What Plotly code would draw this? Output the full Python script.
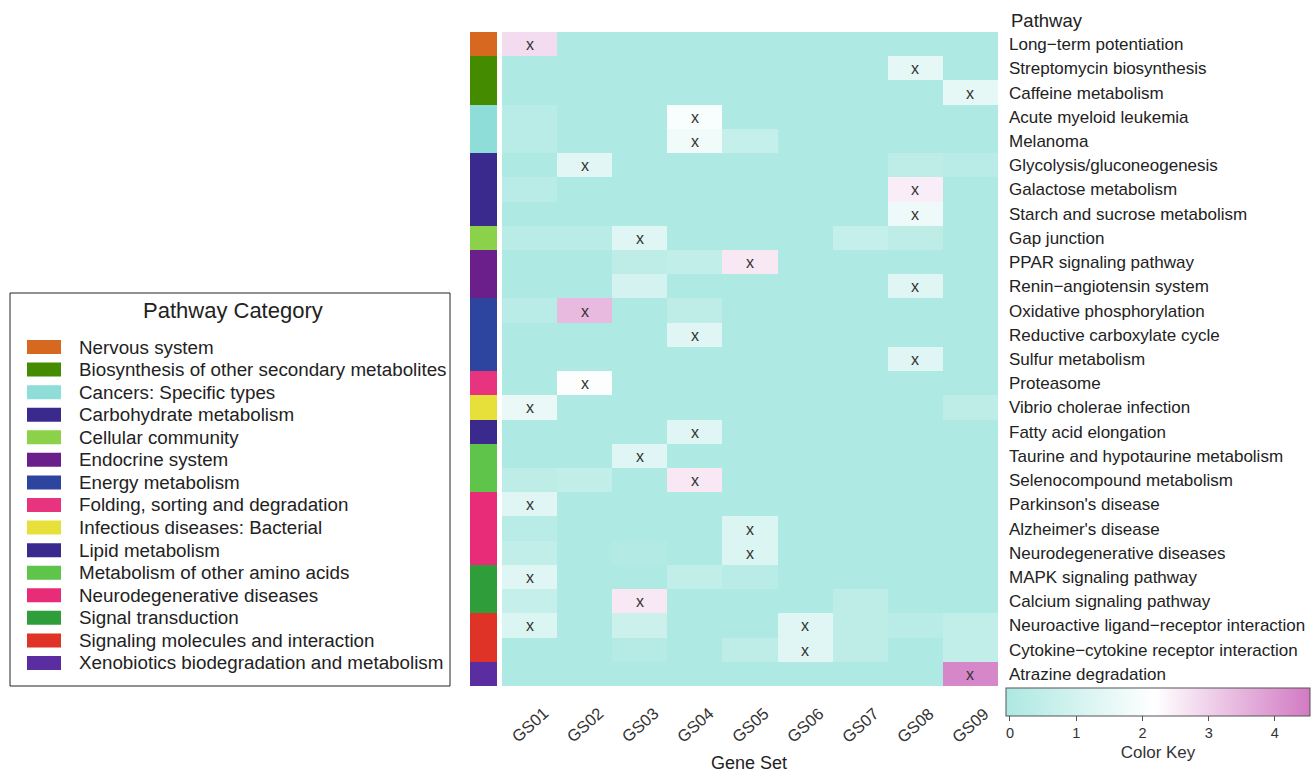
import plotly.graph_objects as go

W, H = 1311, 773
FONT = "Liberation Sans, Arial, sans-serif"

gene_sets = ["GS01", "GS02", "GS03", "GS04", "GS05", "GS06", "GS07", "GS08", "GS09"]

pathways = [
    "Long\u2212term potentiation", "Streptomycin biosynthesis", "Caffeine metabolism",
    "Acute myeloid leukemia", "Melanoma", "Glycolysis/gluconeogenesis",
    "Galactose metabolism", "Starch and sucrose metabolism", "Gap junction",
    "PPAR signaling pathway", "Renin\u2212angiotensin system", "Oxidative phosphorylation",
    "Reductive carboxylate cycle", "Sulfur metabolism", "Proteasome",
    "Vibrio cholerae infection", "Fatty acid elongation", "Taurine and hypotaurine metabolism",
    "Selenocompound metabolism", "Parkinson's disease", "Alzheimer's disease",
    "Neurodegenerative diseases", "MAPK signaling pathway", "Calcium signaling pathway",
    "Neuroactive ligand\u2212receptor interaction", "Cytokine\u2212cytokine receptor interaction",
    "Atrazine degradation",
]

# values (rows = pathways, cols = GS01..GS09)
values = [
    [2.8, 0, 0, 0, 0, 0, 0, 0, 0],
    [0, 0, 0, 0, 0, 0, 0, 1.5, 0],
    [0, 0, 0, 0, 0, 0, 0, 0, 1.5],
    [0.3, 0, 0, 2.0, 0, 0, 0, 0, 0],
    [0.3, 0, 0, 1.8, 0.6, 0, 0, 0, 0],
    [0, 1.4, 0, 0, 0, 0, 0, 0.4, 0.3],
    [0.3, 0, 0, 0, 0, 0, 0, 2.5, 0],
    [0, 0, 0, 0, 0, 0, 0, 1.7, 0],
    [0.3, 0.3, 1.3, 0, 0, 0, 0.6, 0.4, 0],
    [0, 0, 0.4, 0.5, 2.6, 0, 0, 0, 0],
    [0, 0, 1.0, 0, 0, 0, 0, 1.3, 0],
    [0.3, 3.4, 0, 0.4, 0, 0, 0, 0, 0],
    [0, 0, 0, 1.3, 0, 0, 0, 0, 0],
    [0, 0, 0, 0, 0, 0, 0, 1.3, 0],
    [0, 2.1, 0, 0, 0, 0, 0, 0, 0],
    [1.6, 0, 0, 0, 0, 0, 0, 0, 0.4],
    [0, 0, 0, 1.3, 0, 0, 0, 0, 0],
    [0, 0, 1.3, 0, 0, 0, 0, 0, 0],
    [0.4, 0.5, 0, 2.6, 0, 0, 0, 0, 0],
    [1.3, 0, 0, 0, 0, 0, 0, 0, 0],
    [0.3, 0, 0, 0, 1.2, 0, 0, 0, 0],
    [0.5, 0, 0.1, 0, 1.2, 0, 0, 0, 0],
    [1.3, 0, 0, 0.5, 0.3, 0, 0, 0, 0],
    [0.6, 0, 2.6, 0, 0, 0, 0.4, 0, 0],
    [1.2, 0, 0.8, 0, 0, 1.3, 0.4, 0.3, 0.5],
    [0, 0, 0.2, 0, 0.4, 1.3, 0.4, 0, 0.5],
    [0, 0, 0, 0, 0, 0, 0, 0, 4.3],
]

# significance marks (1 = "x")
marks = [
    [1, 0, 0, 0, 0, 0, 0, 0, 0],
    [0, 0, 0, 0, 0, 0, 0, 1, 0],
    [0, 0, 0, 0, 0, 0, 0, 0, 1],
    [0, 0, 0, 1, 0, 0, 0, 0, 0],
    [0, 0, 0, 1, 0, 0, 0, 0, 0],
    [0, 1, 0, 0, 0, 0, 0, 0, 0],
    [0, 0, 0, 0, 0, 0, 0, 1, 0],
    [0, 0, 0, 0, 0, 0, 0, 1, 0],
    [0, 0, 1, 0, 0, 0, 0, 0, 0],
    [0, 0, 0, 0, 1, 0, 0, 0, 0],
    [0, 0, 0, 0, 0, 0, 0, 1, 0],
    [0, 1, 0, 0, 0, 0, 0, 0, 0],
    [0, 0, 0, 1, 0, 0, 0, 0, 0],
    [0, 0, 0, 0, 0, 0, 0, 1, 0],
    [0, 1, 0, 0, 0, 0, 0, 0, 0],
    [1, 0, 0, 0, 0, 0, 0, 0, 0],
    [0, 0, 0, 1, 0, 0, 0, 0, 0],
    [0, 0, 1, 0, 0, 0, 0, 0, 0],
    [0, 0, 0, 1, 0, 0, 0, 0, 0],
    [1, 0, 0, 0, 0, 0, 0, 0, 0],
    [0, 0, 0, 0, 1, 0, 0, 0, 0],
    [0, 0, 0, 0, 1, 0, 0, 0, 0],
    [1, 0, 0, 0, 0, 0, 0, 0, 0],
    [0, 0, 1, 0, 0, 0, 0, 0, 0],
    [1, 0, 0, 0, 0, 1, 0, 0, 0],
    [0, 0, 0, 0, 0, 1, 0, 0, 0],
    [0, 0, 0, 0, 0, 0, 0, 0, 1],
]

categories = [
    "Nervous system", "Biosynthesis of other secondary metabolites", "Cancers: Specific types",
    "Carbohydrate metabolism", "Cellular community", "Endocrine system", "Energy metabolism",
    "Folding, sorting and degradation", "Infectious diseases: Bacterial", "Lipid metabolism",
    "Metabolism of other amino acids", "Neurodegenerative diseases", "Signal transduction",
    "Signaling molecules and interaction", "Xenobiotics biodegradation and metabolism",
]
category_colors = [
    "#D6691F", "#458B00", "#8FDDD9", "#3A2A8E", "#8CD14A", "#6A1F8A", "#2E45A0",
    "#E8347F", "#E8E03A", "#3A2A8E", "#5EC44A", "#E82C78", "#2F9E3A", "#E03327", "#5A2EA0",
]

row_category = [
    "Nervous system",
    "Biosynthesis of other secondary metabolites", "Biosynthesis of other secondary metabolites",
    "Cancers: Specific types", "Cancers: Specific types",
    "Carbohydrate metabolism", "Carbohydrate metabolism", "Carbohydrate metabolism",
    "Cellular community",
    "Endocrine system", "Endocrine system",
    "Energy metabolism", "Energy metabolism", "Energy metabolism",
    "Folding, sorting and degradation",
    "Infectious diseases: Bacterial",
    "Lipid metabolism",
    "Metabolism of other amino acids", "Metabolism of other amino acids",
    "Neurodegenerative diseases", "Neurodegenerative diseases", "Neurodegenerative diseases",
    "Signal transduction", "Signal transduction",
    "Signaling molecules and interaction", "Signaling molecules and interaction",
    "Xenobiotics biodegradation and metabolism",
]

# ---------- geometry helpers (pixel -> paper) ----------
def px(x):
    return x / W

def py(y):
    return 1 - y / H

fig = go.Figure()

# main heatmap
text = [["x" if m else "" for m in row] for row in marks]
fig.add_trace(go.Heatmap(
    z=values, x=gene_sets, y=pathways,
    text=text, texttemplate="%{text}",
    textfont=dict(size=16, color="#333333", family=FONT),
    zmin=-0.06, zmax=4.53,
    colorscale=[[0.0, "#ADE8E2"], [0.49, "#FFFFFF"], [1.0, "#D27AC3"]],
    xaxis="x", yaxis="y",
    colorbar=dict(
        orientation="h",
        xref="paper", yref="paper",
        x=px(1158), xanchor="center",
        y=py(688), yanchor="top",
        len=304, lenmode="pixels",
        thickness=28, thicknessmode="pixels",
        xpad=0, ypad=0,
        outlinewidth=1, outlinecolor="#555555",
        tickvals=[0, 1, 2, 3, 4],
        ticks="outside", ticklen=5, tickcolor="#555555",
        tickfont=dict(size=14.5, color="#333333", family=FONT),
        title=dict(text="Color Key", side="bottom",
                   font=dict(size=17, color="#333333", family=FONT)),
    ),
))

# category strip
n = len(categories)
cat_scale = []
for i, c in enumerate(category_colors):
    cat_scale.append([i / n, c])
    cat_scale.append([(i + 1) / n, c])
strip_z = [[categories.index(c)] for c in row_category]
fig.add_trace(go.Heatmap(
    z=strip_z, x=["category"], y=pathways,
    zmin=-0.5, zmax=n - 0.5,
    colorscale=cat_scale, showscale=False,
    xaxis="x2", yaxis="y",
    hovertext=[[c] for c in row_category], hoverinfo="text",
))

fig.update_layout(
    width=W, height=H,
    margin=dict(l=0, r=0, t=0, b=0),
    paper_bgcolor="white", plot_bgcolor="white",
    font=dict(family=FONT, color="#222222"),
    xaxis=dict(
        domain=[px(502), px(998)], anchor="y",
        showticklabels=False,
        showgrid=False, zeroline=False, showline=False, ticks="",
        automargin=False,
    ),
    xaxis2=dict(
        domain=[px(470), px(497)], anchor="y",
        showticklabels=False, showgrid=False, zeroline=False, showline=False, ticks="",
    ),
    yaxis=dict(
        domain=[py(686), py(32)], anchor="x",
        side="right", autorange="reversed",
        tickfont=dict(size=17, color="#222222"),
        showgrid=False, zeroline=False, showline=False, ticks="",
        ticklabelstandoff=10, automargin=False,
    ),
    showlegend=False,
)

shapes = []
annotations = []

# x tick labels, centred and rotated
for g in gene_sets:
    annotations.append(dict(text=g, x=g, xref="x", y=py(725), yref="paper",
                            xanchor="center", yanchor="middle", textangle=-42,
                            showarrow=False, font=dict(size=16.5, color="#333333")))

# headers
annotations.append(dict(text="Pathway", x=px(1009), y=py(20), xref="paper", yref="paper",
                        xanchor="left", yanchor="middle", showarrow=False,
                        font=dict(size=18.5, color="#222222")))
annotations.append(dict(text="Gene Set", x=px(749), y=py(763), xref="paper", yref="paper",
                        xanchor="center", yanchor="middle", showarrow=False,
                        font=dict(size=18, color="#222222")))

# legend box
shapes.append(dict(type="rect", xref="paper", yref="paper",
                   x0=px(10), x1=px(450), y0=py(686), y1=py(293),
                   line=dict(color="#222222", width=1), fillcolor="white"))
annotations.append(dict(text="Pathway Category", x=px(233), y=py(310), xref="paper", yref="paper",
                        xanchor="center", yanchor="middle", showarrow=False,
                        font=dict(size=22, color="#222222")))
for i, (c, col) in enumerate(zip(categories, category_colors)):
    yc = 347 + i * 22.57
    shapes.append(dict(type="rect", xref="paper", yref="paper",
                       x0=px(27), x1=px(61), y0=py(yc + 7), y1=py(yc - 7),
                       line=dict(width=0), fillcolor=col))
    annotations.append(dict(text=c, x=px(77), y=py(yc), xref="paper", yref="paper",
                            xanchor="left", yanchor="middle", showarrow=False,
                            font=dict(size=18.8, color="#222222")))

fig.update_layout(shapes=shapes, annotations=annotations)

fig.write_html("out.html", config={"displayModeBar": False},
               post_script="document.body.style.margin='0px';")
